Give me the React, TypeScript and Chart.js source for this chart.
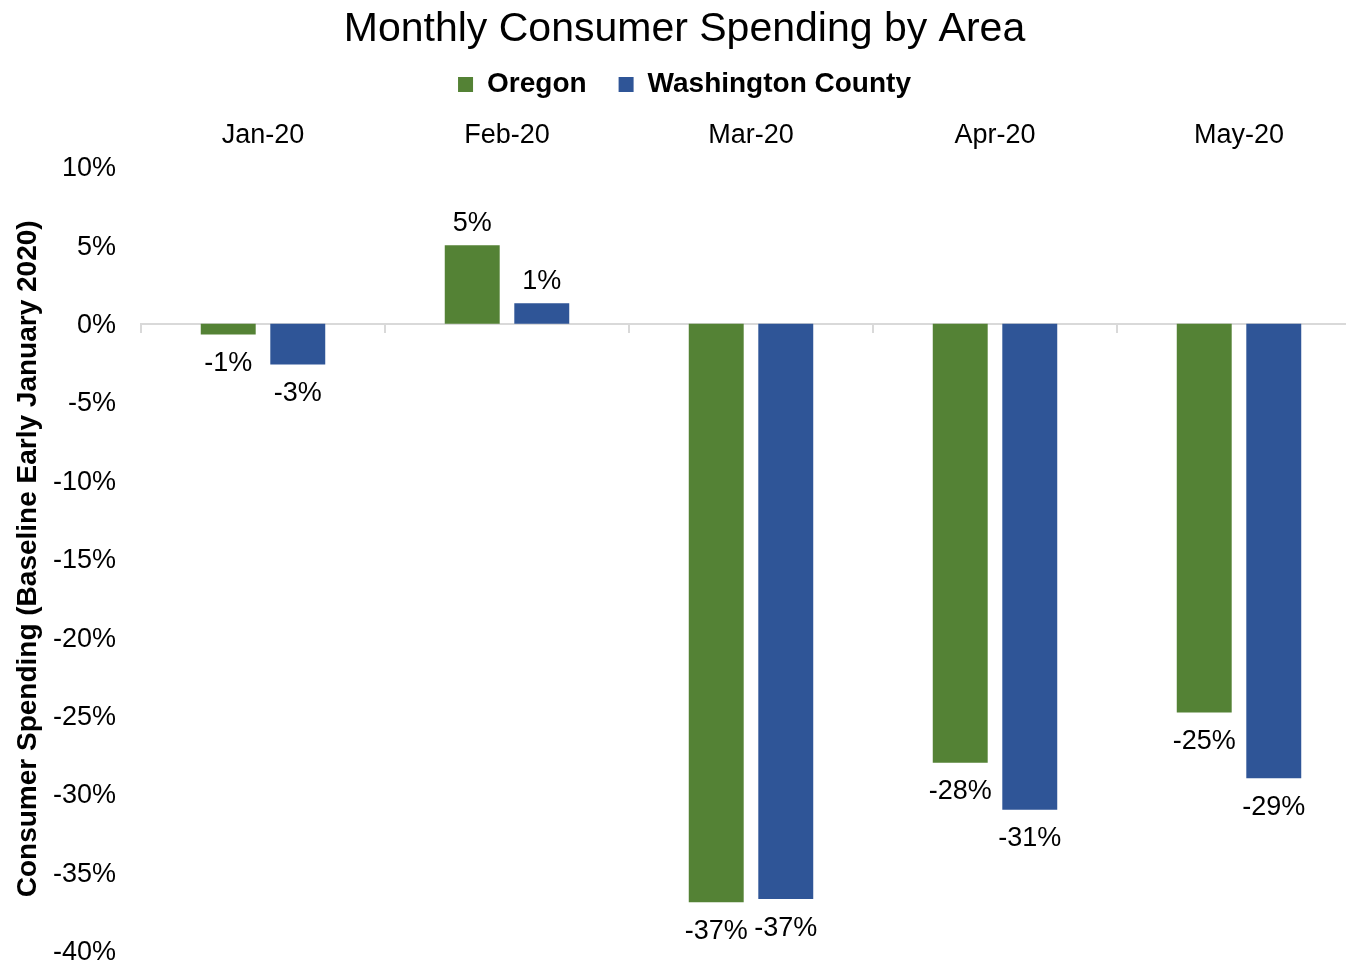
import React, { useEffect, useRef } from "react";
import { Chart, registerables } from "chart.js";

Chart.register(...registerables);

const categories = ["Jan-20", "Feb-20", "Mar-20", "Apr-20", "May-20"];
const oregonValues = [-0.7, 5.0, -36.9, -28.0, -24.8];
const washingtonValues = [-2.6, 1.3, -36.7, -31.0, -29.0];
const seriesNames = ["Oregon", "Washington County"];
const yMin = -40;
const yMax = 10;
const yStep = 5;

const FONT = "'Liberation Sans', Arial, sans-serif";

const dataLabelPlugin = {
  id: "dataLabels",
  afterDatasetsDraw(chart: any) {
    const ctx = chart.ctx;
    ctx.save();
    ctx.font = `27px ${FONT}`;
    ctx.fillStyle = "#000";
    ctx.textAlign = "center";
    ctx.textBaseline = "middle";
    chart.data.datasets.forEach((ds: any, di: number) => {
      const meta = chart.getDatasetMeta(di);
      meta.data.forEach((el: any, i: number) => {
        const v = ds.data[i] as number;
        const txt = `${Math.round(v)}%`;
        const y = v >= 0 ? el.y - 22 : el.y + 29;
        ctx.fillText(txt, el.x, y);
      });
    });
    ctx.restore();
  },
};

export default function App() {
  const ref = useRef<HTMLCanvasElement | null>(null);
  useEffect(() => {
    if (!ref.current) return;
    const chart = new Chart(ref.current, {
      type: "bar",
      data: {
        labels: categories,
        datasets: [
          {
            label: seriesNames[0],
            data: oregonValues,
            backgroundColor: "#548235",
            categoryPercentage: 0.57,
            barPercentage: 0.79,
          },
          {
            label: seriesNames[1],
            data: washingtonValues,
            backgroundColor: "#2F5597",
            categoryPercentage: 0.57,
            barPercentage: 0.79,
          },
        ],
      },
      options: {
        responsive: false,
        animation: false,
        layout: { padding: { left: 8, right: 1, top: 0, bottom: 0 } },
        plugins: {
          title: {
            display: true,
            text: "Monthly Consumer Spending by Area",
            color: "#000",
            font: { family: FONT, size: 41, weight: "normal", lineHeight: 0.45 },
            padding: { top: 20, bottom: 0 },
          },
          legend: {
            display: true,
            position: "top",
            labels: {
              color: "#000",
              font: { family: FONT, size: 28, weight: "bold" },
              boxWidth: 15,
              boxHeight: 15,
              padding: 32,
            },
          },
          tooltip: { enabled: false },
        },
        scales: {
          x: {
            type: "category",
            position: "top",
            offset: true,
            grid: { display: false, drawTicks: false },
            border: { display: false },
            ticks: {
              color: "#000",
              font: { family: FONT, size: 27 },
              padding: 15,
              maxRotation: 0,
            },
            afterFit: (scale: any) => {
              scale.height = 58.4;
            },
          },
          x2: {
            type: "category",
            labels: categories,
            position: { y: 0 },
            offset: true,
            grid: {
              display: true,
              offset: true,
              drawOnChartArea: false,
              drawTicks: true,
              tickLength: 8,
              color: "#d9d9d9",
              lineWidth: 2,
            },
            border: { display: true, color: "#d9d9d9", width: 2 },
            ticks: { display: false },
            afterFit: (scale: any) => {
              scale.height = 0;
            },
          },
          y: {
            min: yMin,
            max: yMax,
            grid: { display: false, drawTicks: true, tickLength: 25 },
            border: { display: false },
            ticks: {
              stepSize: yStep,
              color: "#000",
              font: { family: FONT, size: 27 },
              padding: 0,
              labelOffset: 2,
              callback: (v: any) => `${v}%`,
            },
            title: {
              display: true,
              text: "Consumer Spending (Baseline Early January 2020)",
              color: "#000",
              font: { family: FONT, size: 28, weight: "bold" },
              padding: { top: 3, bottom: 6 },
            },
            afterFit: (scale: any) => {
              scale.width = 133;
            },
          },
        },
      },
      plugins: [dataLabelPlugin],
    } as any);
    return () => chart.destroy();
  }, []);

  return (
    <div
      style={{
        position: "absolute",
        left: 0,
        top: 0,
        width: 1346,
        height: 961,
        overflow: "hidden",
        background: "#fff",
      }}
    >
      <canvas ref={ref} width={1362} height={967} style={{ display: "block" }} />
    </div>
  );
}
